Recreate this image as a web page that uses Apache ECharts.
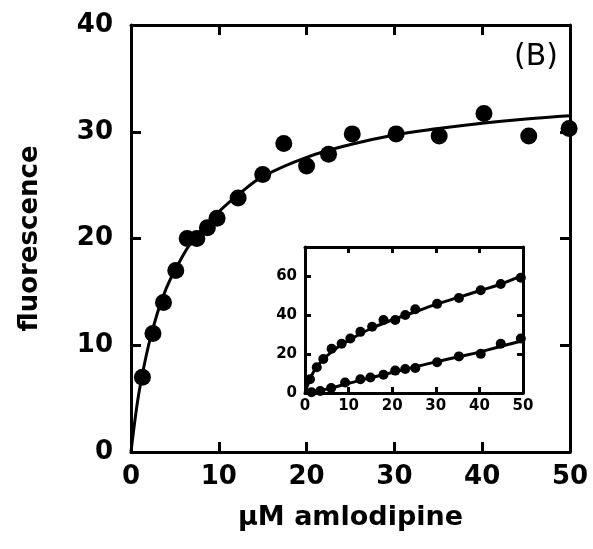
<!DOCTYPE html>
<html>
<head>
<meta charset="utf-8">
<script src="https://cdn.jsdelivr.net/npm/echarts@6/dist/echarts.min.js"></script>
<style>html,body{margin:0;padding:0;background:#fff}#c{width:593px;height:549px}</style>
</head>
<body>
<div id="c"></div>
<script>
// Main panel data (x: µM amlodipine, y: fluorescence)
var mainX = [1.3, 2.5, 3.7, 5.1, 6.4, 7.5, 8.7, 9.8, 12.2, 15.0, 17.4, 20.0, 22.5, 25.2, 30.2, 35.1, 40.2, 45.3, 49.9];
var mainY = [7.0, 11.1, 14.0, 17.0, 20.0, 20.0, 21.0, 21.9, 23.8, 26.0, 28.9, 26.8, 27.9, 29.8, 29.8, 29.6, 31.7, 29.6, 30.3];
// Fitted curve
var fitX = [0, 0.5, 1, 2, 3, 4, 5, 7, 10, 12.5, 15, 20, 25, 30, 35, 40, 45, 50];
var fitY = [0, 3.3, 6.0, 10.0, 13.0, 15.3, 17.0, 19.8, 22.5, 24.3, 25.8, 27.6, 28.8, 29.7, 30.3, 30.8, 31.2, 31.5];
// Inset data
var insUpX = [1.15, 2.7, 4.2, 6.1, 8.4, 10.4, 12.7, 15.4, 18.0, 20.7, 23.0, 25.3, 30.3, 35.3, 40.3, 44.9, 49.5];
var insUpY = [7.1, 13.2, 17.5, 22.7, 25.3, 28.0, 31.4, 34.0, 37.5, 37.5, 40.1, 43.0, 45.8, 48.8, 52.8, 56.0, 59.2];
var insLoX = [1.5, 3.5, 6.0, 9.2, 12.7, 15.0, 18.0, 20.7, 23.0, 25.3, 30.3, 35.3, 40.3, 44.9, 49.5];
var insLoY = [0.4, 1.0, 2.6, 5.4, 7.1, 8.0, 9.4, 11.5, 12.3, 12.8, 15.8, 18.8, 20.1, 25.3, 28.0];
var insUpFitX = [0, 1, 2, 3, 5, 7.5, 10, 15, 20, 25, 30, 35, 40, 45, 50];
var insUpFitY = [0, 6.5, 11.0, 14.3, 19.0, 23.5, 27.0, 33.0, 37.5, 41.5, 45.5, 49.0, 52.5, 56.0, 60.5];
var insLoFitX = [0, 5, 10, 15, 20, 25, 30, 35, 40, 45, 50];
var insLoFitY = [0, 2.0, 5.0, 7.8, 10.5, 13.3, 16.0, 18.5, 21.0, 24.0, 26.8];

function pairs(xs, ys) { return xs.map(function (x, i) { return [x, ys[i]]; }); }

var FONT = 'DejaVu Sans';
var mainLabel = { color: '#000', fontFamily: FONT, fontWeight: 'bold', fontSize: 26 };
var insLabel = { color: '#000', fontFamily: FONT, fontWeight: 'bold', fontSize: 15 };
var axLine = { show: true, onZero: false, lineStyle: { color: '#000', width: 3 } };
var insLine = { show: true, onZero: false, lineStyle: { color: '#000', width: 3 } };
var mainTick = { inside: true, length: 10, lineStyle: { color: '#000', width: 3 } };
var insTick = { inside: true, length: 6, lineStyle: { color: '#000', width: 3 } };

var chart = echarts.init(document.getElementById('c'));
chart.setOption({
  backgroundColor: '#fff',
  animation: false,
  graphic: [{
    type: 'text', left: 514, top: 42, z: 10,
    style: { text: '(B)', fontFamily: FONT, fontSize: 30, fill: '#000' }
  }],
  grid: [
    { left: 131, right: 23, top: 25, bottom: 97 },
    { left: 305, right: 70, top: 247, bottom: 156, backgroundColor: '#fff', show: true, borderWidth: 0 }
  ],
  xAxis: [
    { gridIndex: 0, type: 'value', min: 0, max: 50, interval: 10, position: 'bottom',
      name: 'μM amlodipine', nameLocation: 'middle', nameGap: 52,
      nameTextStyle: { color: '#000', fontFamily: FONT, fontWeight: 'bold', fontSize: 27 },
      axisLine: axLine, axisTick: mainTick,
      axisLabel: Object.assign({ margin: 12 }, mainLabel), splitLine: { show: false } },
    { gridIndex: 0, type: 'value', min: 0, max: 50, interval: 10, position: 'top',
      axisLine: axLine, axisTick: mainTick,
      axisLabel: { show: false }, splitLine: { show: false } },
    { gridIndex: 1, type: 'value', min: 0, max: 50, interval: 10, position: 'bottom',
      axisLine: insLine, axisTick: insTick,
      axisLabel: Object.assign({ margin: 6 }, insLabel), splitLine: { show: false } },
    { gridIndex: 1, type: 'value', min: 0, max: 50, interval: 10, position: 'top',
      axisLine: insLine, axisTick: insTick,
      axisLabel: { show: false }, splitLine: { show: false } }
  ],
  yAxis: [
    { gridIndex: 0, type: 'value', min: 0, max: 40, interval: 10, position: 'left',
      name: 'fluorescence', nameLocation: 'middle', nameGap: 88, nameRotate: 90,
      nameTextStyle: { color: '#000', fontFamily: FONT, fontWeight: 'bold', fontSize: 26 },
      axisLine: axLine, axisTick: mainTick,
      axisLabel: Object.assign({ margin: 18 }, mainLabel), splitLine: { show: false } },
    { gridIndex: 0, type: 'value', min: 0, max: 40, interval: 10, position: 'right',
      axisLine: axLine, axisTick: mainTick,
      axisLabel: { show: false }, splitLine: { show: false } },
    { gridIndex: 1, type: 'value', min: 0, max: 75, interval: 20, position: 'left',
      axisLine: insLine, axisTick: insTick,
      axisLabel: Object.assign({ margin: 8, showMaxLabel: false }, insLabel), splitLine: { show: false } },
    { gridIndex: 1, type: 'value', min: 0, max: 75, interval: 20, position: 'right',
      axisLine: insLine, axisTick: insTick,
      axisLabel: { show: false }, splitLine: { show: false } }
  ],
  series: [
    { type: 'line', xAxisIndex: 0, yAxisIndex: 0, data: pairs(fitX, fitY), smooth: 0.4,
      symbol: 'none', lineStyle: { color: '#000', width: 3 } },
    { type: 'scatter', xAxisIndex: 0, yAxisIndex: 0, data: pairs(mainX, mainY),
      symbolSize: 17, itemStyle: { color: '#000', opacity: 1 } },
    { type: 'line', xAxisIndex: 2, yAxisIndex: 2, data: pairs(insUpFitX, insUpFitY), smooth: 0.4,
      symbol: 'none', lineStyle: { color: '#000', width: 3 } },
    { type: 'line', xAxisIndex: 2, yAxisIndex: 2, data: pairs(insLoFitX, insLoFitY), smooth: 0.4,
      symbol: 'none', lineStyle: { color: '#000', width: 3 } },
    { type: 'scatter', xAxisIndex: 2, yAxisIndex: 2, data: pairs(insUpX, insUpY),
      symbolSize: 10, itemStyle: { color: '#000', opacity: 1 } },
    { type: 'scatter', xAxisIndex: 2, yAxisIndex: 2, data: pairs(insLoX, insLoY),
      symbolSize: 10, itemStyle: { color: '#000', opacity: 1 } }
  ]
});
</script>
</body>
</html>
